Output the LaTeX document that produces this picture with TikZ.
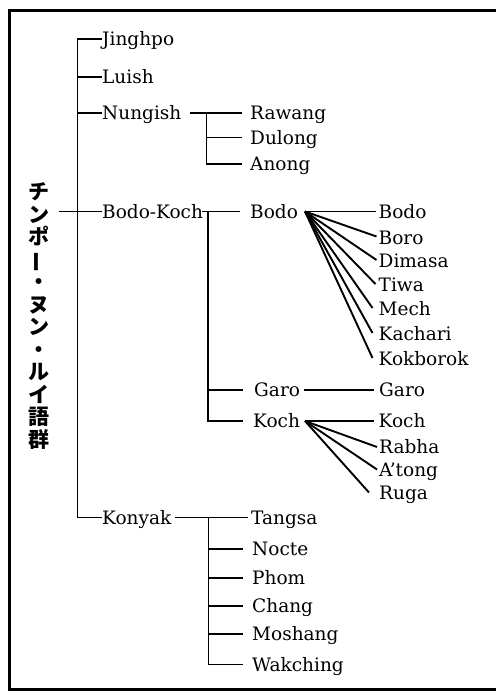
\documentclass[tikz,border=0pt]{standalone}
\usepackage{fontspec}
\usepackage{graphicx}
\setmainfont{DejaVu Serif}
\newfontfamily\cjk{Noto Sans CJK JP}
\begin{document}
\begin{tikzpicture}[x=1pt,y=-1pt,
  lbl/.style={anchor=west,inner sep=0pt,text height=13pt,text depth=0pt,font=\fontsize{18.5}{20}\selectfont},
  ln/.style={line width=1.9pt},
  frame/.style={line width=3pt}]
\useasboundingbox (0,0) rectangle (496,691);
\draw[frame] (496,10) -- (9,10) -- (9,689.5) -- (496,689.5);

% root
\node[font=\cjk\bfseries\fontsize{21}{22.5}\selectfont, align=center, inner sep=0pt] (root) at (39,316)
  {チ\\ン\\ポ\\\rotatebox[origin=c]{90}{ー}\\・\\ヌ\\ン\\・\\ル\\イ\\語\\群};

% main level
\node[lbl] (jing) at (102,39) {Jinghpo};
\node[lbl] (luish) at (102,77) {Luish};
\node[lbl] (nung) at (102,113) {Nungish};
\node[lbl] (bk) at (102,211.5) {Bodo-Koch};
\node[lbl] (konyak) at (102,517.5) {Konyak};
\coordinate (sp) at (77.5,0);
\coordinate (rt) at (59,211.5);
\draw[ln] (jing.west) -| (konyak.west -| sp) -- (konyak.west);
\foreach \n in {luish,nung} \draw[ln] (\n.west -| sp) -- (\n.west);
\draw[ln] (rt) -- (bk.west);

% Nungish
\node[lbl] (rawang) at (250,113) {Rawang};
\node[lbl] (dulong) at (250,137.5) {Dulong};
\node[lbl] (anong) at (250,164) {Anong};
\coordinate (n0) at (190,113);
\coordinate (nv) at (206.5,0);
\draw[ln] (n0) -- ([xshift=-8pt]rawang.west);
\draw[ln] (rawang.west -| nv) |- ([xshift=-8pt]anong.west);
\draw[ln] (dulong.west -| nv) -- ([xshift=-8pt]dulong.west);

% Bodo-Koch
\node[lbl] (bodo) at (250,211.5) {Bodo};
\node[lbl] (garo) at (254,390) {Garo};
\node[lbl] (koch) at (253,421) {Koch};
\coordinate (b0) at (202,211.5);
\coordinate (bv) at (208,0);
\draw[ln] (b0) -- ([xshift=-10pt]bodo.west);
\draw[ln] (bodo.west -| bv) |- ([xshift=-10pt]koch.west);
\draw[ln] (garo.west -| bv) -- ([xshift=-11pt]garo.west);

% Bodo fan
\node[lbl] (bodoR) at (378.5,211.5) {Bodo};
\node[lbl] (boro) at (378.5,237.5) {Boro};
\node[lbl] (dimasa) at (378.5,261) {Dimasa};
\node[lbl] (tiwa) at (378.5,285) {Tiwa};
\node[lbl] (mech) at (378.5,309) {Mech};
\node[lbl] (kachari) at (378.5,334) {Kachari};
\node[lbl] (kokborok) at (378.5,359) {Kokborok};
\coordinate (bj) at (305,211.5);
\draw[ln] (bj) -- ([xshift=-3pt]bodoR.west);
\foreach \n/\s in {boro/2,dimasa/2,tiwa/3,mech/6,kachari/6,kokborok/6}
  \draw[ln] (bj) -- ([xshift=-\s pt,yshift=1pt]\n.west);

% Garo
\node[lbl] (garoR) at (379,390) {Garo};
\coordinate (gj) at (304,390);
\draw[ln] (gj) -- ([xshift=-5pt]garoR.west);

% Koch fan
\node[lbl] (kochR) at (378.5,421) {Koch};
\node[lbl] (rabha) at (379,447) {Rabha};
\node[lbl] (atong) at (379,469.5) {A'tong};
\node[lbl] (ruga) at (379,492.5) {Ruga};
\coordinate (kj) at (305,421);
\foreach \n/\s in {kochR/5,rabha/2,atong/2,ruga/10}
  \draw[ln] (kj) -- ([xshift=-\s pt]\n.west);

% Konyak
\node[lbl] (tangsa) at (251,517.5) {Tangsa};
\node[lbl] (nocte) at (252,549) {Nocte};
\node[lbl] (phom) at (252,578) {Phom};
\node[lbl] (chang) at (252,606) {Chang};
\node[lbl] (moshang) at (252,634) {Moshang};
\node[lbl] (wakching) at (252,664.5) {Wakching};
\coordinate (k0) at (175,517.5);
\coordinate (kv) at (208.5,0);
\draw[ln] (k0) -- ([xshift=-3pt]tangsa.west);
\draw[ln] (tangsa.west -| kv) |- ([xshift=-9pt]wakching.west);
\foreach \n in {nocte,phom,chang,moshang}
  \draw[ln] (\n.west -| kv) -- ([xshift=-9pt]\n.west);
\end{tikzpicture}
\end{document}
